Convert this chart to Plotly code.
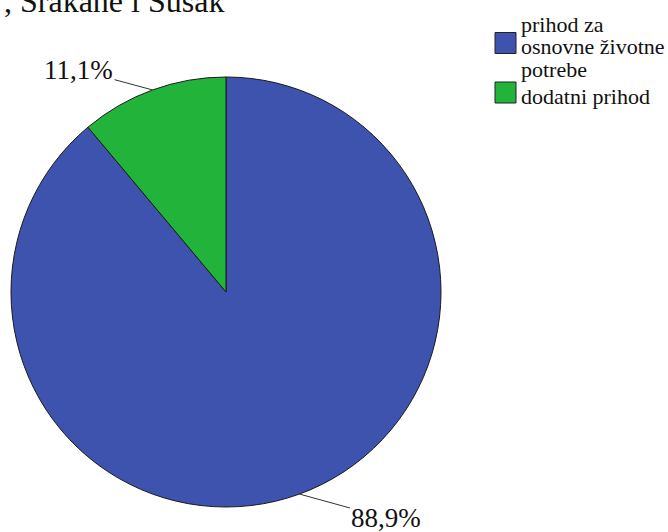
import math
import plotly.graph_objects as go

# Data
labels = ["prihod za<br>osnovne životne<br>potrebe", "dodatni prihod"]
values = [88.9, 11.1]
value_texts = ["88,9%", "11,1%"]
title_text = ", Srakane i Susak"

# Style / layout
W, H = 668, 532
colors = ["#3d53ae", "#22b43a"]
font_family = "Liberation Serif"
cx_px, cy_px, r_px = 226.0, 292.0, 215.0
label_offsets = {"88,9%": (87, 24), "11,1%": (-74, -20)}

# custom legend geometry (pixels)
leg_sw_x0, leg_sw_x1 = 495, 516
leg_text_x = 519
leg_first_mid = 24.0     # vertical centre of first text line
leg_line_step = 22.5
leg_entry_gap = 4.5
leg_font = 22
leg_sw_half = 10.5
leg_sw_shift = -3.5

dom_x = [(cx_px - r_px) / W, (cx_px + r_px) / W]
dom_y = [1 - (cy_px + r_px) / H, 1 - (cy_px - r_px) / H]

fig = go.Figure(go.Pie(
    labels=labels,
    values=values,
    sort=False,
    direction="clockwise",
    rotation=0,
    textinfo="none",
    hoverinfo="label+percent",
    marker=dict(colors=colors, line=dict(color="#1a1a1a", width=1)),
    domain=dict(x=dom_x, y=dom_y),
    showlegend=False,
))

# Leader-line labels at slice midpoints
total = sum(values)
start = 0.0
annotations = []
for v, t in zip(values, value_texts):
    mid = start + v / total * 360.0 / 2
    start += v / total * 360.0
    a = math.radians(mid)
    px = cx_px + r_px * math.sin(a)
    py = cy_px - r_px * math.cos(a)
    ax, ay = label_offsets[t]
    annotations.append(dict(
        x=px / W, y=1 - py / H, xref="paper", yref="paper",
        text=t, showarrow=True, arrowhead=0, arrowwidth=1, arrowcolor="#333333",
        ax=ax, ay=ay, standoff=0,
        font=dict(family=font_family, size=27, color="#111111"),
    ))

annotations.append(dict(
    x=2 / W, y=1 - 21 / H, xref="paper", yref="paper",
    xanchor="left", yanchor="bottom", showarrow=False,
    text=title_text,
    font=dict(family=font_family, size=32, color="#111111"),
))

# Custom legend (serif text, large swatches)
shapes = []
y_line = leg_first_mid
for lab, col in zip(labels, colors):
    lines = lab.split("<br>")
    mids = []
    for ln in lines:
        annotations.append(dict(
            x=leg_text_x / W, y=1 - y_line / H, xref="paper", yref="paper",
            xanchor="left", yanchor="middle", showarrow=False, text=ln,
            font=dict(family=font_family, size=leg_font, color="#111111"),
        ))
        mids.append(y_line)
        y_line += leg_line_step
    y_line += leg_entry_gap
    ymid = mids[len(mids) // 2] + leg_sw_shift
    shapes.append(dict(
        type="rect", xref="paper", yref="paper",
        x0=leg_sw_x0 / W, x1=leg_sw_x1 / W,
        y0=1 - (ymid - leg_sw_half) / H, y1=1 - (ymid + leg_sw_half) / H,
        fillcolor=col, line=dict(color="#222222", width=1),
    ))

fig.update_layout(
    width=W, height=H,
    margin=dict(l=0, r=0, t=0, b=0),
    paper_bgcolor="white", plot_bgcolor="white",
    font=dict(family=font_family, size=20, color="#111111"),
    annotations=annotations,
    shapes=shapes,
    showlegend=False,
)

fig.write_html("out.html")
